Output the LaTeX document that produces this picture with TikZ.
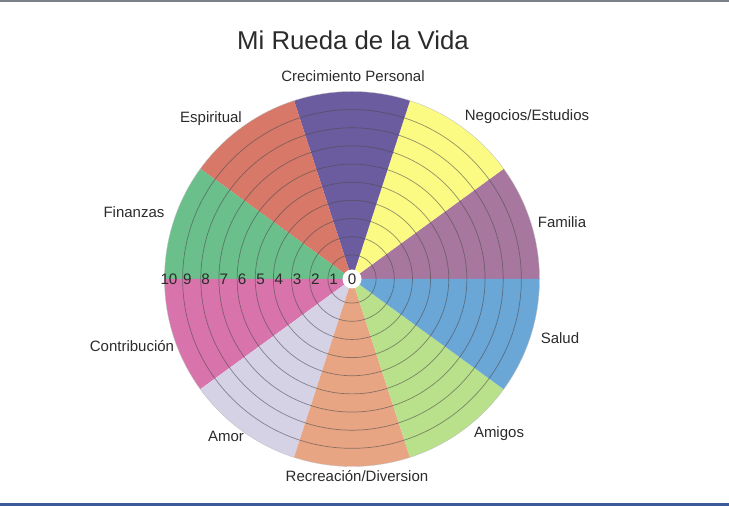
\documentclass[tikz,border=0pt]{standalone}
\usepackage{fontspec}
\setmainfont{Liberation Sans}
\usepackage{tikz}
\usetikzlibrary{positioning}
\definecolor{familia}{HTML}{A877A0}
\definecolor{negocios}{HTML}{FBFB84}
\definecolor{crecimiento}{HTML}{6B5B9F}
\definecolor{espiritual}{HTML}{D77868}
\definecolor{finanzas}{HTML}{6ABF8B}
\definecolor{contribucion}{HTML}{D873AB}
\definecolor{amor}{HTML}{D6D2E6}
\definecolor{recreacion}{HTML}{E8A584}
\definecolor{amigos}{HTML}{B9E08A}
\definecolor{salud}{HTML}{6AA6D6}
\definecolor{txt}{HTML}{2B2B2B}
\definecolor{frame}{HTML}{7A8087}
\definecolor{bar}{HTML}{3A5A9A}
\tikzset{
  ring/.style={draw=black!70,opacity=0.6,line width=0.6pt},
  area/.style={font=\fontsize{12.8}{15}\selectfont,text=txt,inner sep=0pt},
  tick/.style={font=\fontsize{13}{15}\selectfont,text=txt,inner sep=0pt}
}

\begin{document}
\begin{tikzpicture}[x=0.03cm,y=0.03cm]
  \useasboundingbox (0,0) rectangle (729,506);
  \fill[frame] (0,504) rectangle (729,506);
  \fill[bar] (0,0) rectangle (729,3);
  \coordinate (C) at (352,227);
  \foreach \a/\c in {0/familia,36/negocios,72/crecimiento,108/espiritual,144/finanzas,180/contribucion,216/amor,252/recreacion,288/amigos,324/salud} {\fill[\c] (C) -- ++(\a:187.5) arc[start angle=\a,end angle=\a+36,radius=187.5] -- cycle;}
  \foreach \k in {1,...,9} {\draw[ring] (C) circle ({6+18.15*\k});}
  \draw[black!25,line width=0.3pt] (C) circle (187.5);
  \fill[white] (C) circle (9.5);
  \node[tick] (n0) at (C) {0};
  \foreach \k in {1,...,10} {\node[tick] (n\k) at ([shift={(180:18.3*\k)}]C) {\k};}
  \foreach \n/\x/\y/\l in {crec/353/430/Crecimiento Personal,nego/527/389/Negocios\slash Estudios,fam/562/284/Familia,sal/560/168/Salud,ami/499/72/Amigos,recr/357/30/Recreación\slash Diversion,amor/226/70/Amor,contr/132/160/Contribución,fin/134/294/Finanzas,esp/211/387/Espiritual} {\node[area] (\n) at (\x,\y) {\l};}
  \node[font=\fontsize{22}{26}\selectfont,text=txt] (title) at (353,466) {Mi Rueda de la Vida};
\end{tikzpicture}
\end{document}
